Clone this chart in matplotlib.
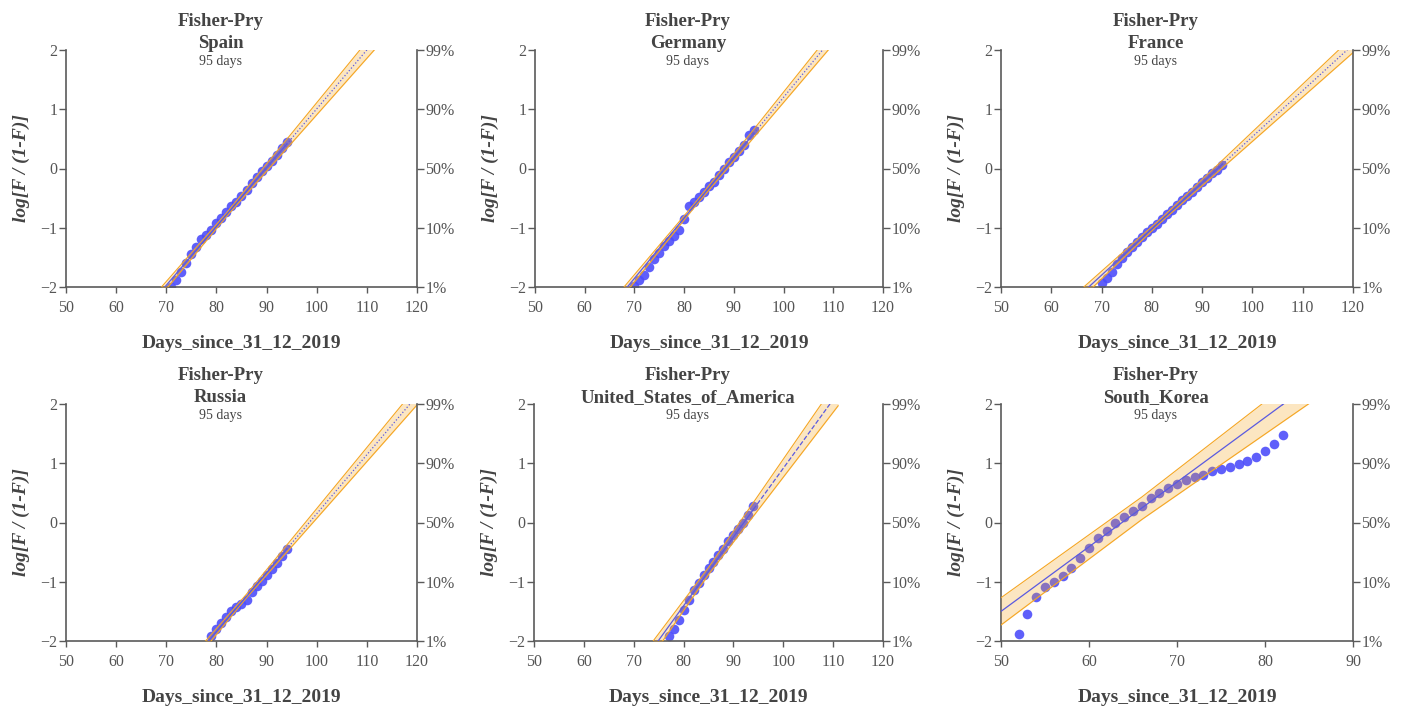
import numpy as np
import matplotlib
matplotlib.use("Agg")
import matplotlib.pyplot as plt

plt.rcParams['font.family'] = ['Liberation Serif', 'DejaVu Serif']

# ---- data ----
spain_days = list(range(71, 95))
spain_vals = [-2.00, -1.88, -1.74, -1.60, -1.45, -1.32, -1.19, -1.12, -1.04, -0.92,
              -0.84, -0.74, -0.64, -0.56, -0.47, -0.36, -0.25, -0.14, -0.05, 0.04,
              0.12, 0.23, 0.34, 0.45]
spain_fit_x = [68, 94, 112]
spain_fit_y = [-2.17, 0.41, 2.20]
spain_band_x = [68, 82, 112]
spain_band_lo = [-2.24, -0.81, 2.05]
spain_band_hi = [-2.10, -0.75, 2.35]

germany_days = list(range(70, 95))
germany_vals = [-1.98, -1.89, -1.80, -1.66, -1.53, -1.42, -1.31, -1.22, -1.14, -1.04,
                -0.86, -0.64, -0.56, -0.48, -0.39, -0.30, -0.22, -0.11, 0.00, 0.11,
                0.20, 0.30, 0.40, 0.57, 0.65]
germany_fit_x = [67, 94, 110]
germany_fit_y = [-2.16, 0.59, 2.22]
germany_band_x = [67, 82, 110]
germany_band_lo = [-2.23, -0.66, 2.10]
germany_band_hi = [-2.09, -0.60, 2.34]

france_days = list(range(70, 95))
france_vals = [-1.94, -1.85, -1.74, -1.62, -1.51, -1.41, -1.32, -1.24, -1.16, -1.08,
               -1.00, -0.93, -0.85, -0.77, -0.70, -0.62, -0.54, -0.47, -0.39, -0.31,
               -0.23, -0.16, -0.08, -0.02, 0.06]
france_fit_x = [65, 94, 121]
france_fit_y = [-2.19, 0.07, 2.17]
france_band_x = [65, 82, 121]
france_band_lo = [-2.27, -0.89, 2.03]
france_band_hi = [-2.11, -0.83, 2.31]

russia_days = list(range(79, 95))
russia_vals = [-1.92, -1.79, -1.69, -1.60, -1.49, -1.42, -1.38, -1.30, -1.17, -1.08,
               -0.98, -0.89, -0.78, -0.68, -0.57, -0.45]
russia_fit_x = [77, 94, 121]
russia_fit_y = [-2.14, -0.45, 2.24]
russia_band_x = [77, 86, 121]
russia_band_lo = [-2.20, -1.27, 2.08]
russia_band_hi = [-2.08, -1.21, 2.40]

usa_days = list(range(77, 95))
usa_vals = [-1.92, -1.79, -1.65, -1.47, -1.30, -1.14, -1.02, -0.89, -0.77, -0.66,
            -0.55, -0.44, -0.32, -0.21, -0.11, 0.00, 0.13, 0.28]
usa_fit_x = [73, 94, 111]
usa_fit_y = [-2.22, 0.22, 2.19]
usa_band_x = [73, 85, 111]
usa_band_lo = [-2.34, -0.88, 1.97]
usa_band_hi = [-2.10, -0.76, 2.41]

korea_days = list(range(52, 83))
korea_vals = [-1.88, -1.55, -1.26, -1.09, -1.01, -0.90, -0.76, -0.60, -0.43, -0.27,
              -0.14, -0.01, 0.10, 0.19, 0.28, 0.41, 0.50, 0.59, 0.65, 0.71,
              0.77, 0.81, 0.87, 0.90, 0.94, 0.98, 1.04, 1.11, 1.21, 1.32, 1.47]
korea_fit_x = [50, 82, 86]
korea_fit_y = [-1.50, 1.99, 2.42]
korea_band_x = [50, 66, 86]
korea_band_lo = [-1.73, 0.05, 2.11]
korea_band_hi = [-1.27, 0.43, 2.73]

y_ticks = [-2, -1, 0, 1, 2]
pct_labels = ["1%", "10%", "50%", "90%", "99%"]

panels = [
    ("Spain", spain_days, spain_vals, spain_fit_x, spain_fit_y,
     spain_band_x, spain_band_lo, spain_band_hi, ":", (50, 120)),
    ("Germany", germany_days, germany_vals, germany_fit_x, germany_fit_y,
     germany_band_x, germany_band_lo, germany_band_hi, ":", (50, 120)),
    ("France", france_days, france_vals, france_fit_x, france_fit_y,
     france_band_x, france_band_lo, france_band_hi, ":", (50, 120)),
    ("Russia", russia_days, russia_vals, russia_fit_x, russia_fit_y,
     russia_band_x, russia_band_lo, russia_band_hi, ":", (50, 120)),
    ("United_States_of_America", usa_days, usa_vals, usa_fit_x, usa_fit_y,
     usa_band_x, usa_band_lo, usa_band_hi, "--", (50, 120)),
    ("South_Korea", korea_days, korea_vals, korea_fit_x, korea_fit_y,
     korea_band_x, korea_band_lo, korea_band_hi, "-", (50, 90)),
]

W, H = 1405, 708
fig = plt.figure(figsize=(W / 100, H / 100), dpi=100)

# axes boxes in pixels: left, right, top, bottom
boxes = [
    (66, 417, 50, 287), (535, 883, 50, 287), (1001, 1353, 50, 287),
    (66, 417, 404, 641), (534, 883, 404, 641), (1001, 1353, 404, 641),
]

text_col = "#444444"
axis_col = "#5a5a5a"
dot_col = "#4d4dfa"
fit_col = "#5a5ae0"
band_col = "#f5a623"

for (name, days, vals, fx, fy, bx, blo, bhi, ext_style, xlim), (l, r, t, b) in zip(panels, boxes):
    ax = fig.add_axes([l / W, 1 - b / H, (r - l) / W, (b - t) / H])
    ax.scatter(days, vals, s=48, color=dot_col, alpha=0.9, linewidths=0, zorder=2)
    ax.plot(fx[:2], fy[:2], color=fit_col, lw=0.9, zorder=4)
    ax.plot(fx[1:], fy[1:], color=fit_col, lw=0.9, ls=ext_style, zorder=4)
    ax.fill_between(bx, blo, bhi, color=band_col, alpha=0.28, lw=0, zorder=3)
    ax.plot(bx, blo, color=band_col, lw=0.8, zorder=3)
    ax.plot(bx, bhi, color=band_col, lw=0.8, zorder=3)

    ax.set_xlim(*xlim)
    ax.set_ylim(-2, 2)
    ax.set_xticks(np.arange(xlim[0], xlim[1] + 1, 10))
    ax.set_yticks(y_ticks)
    for s in ["top", "right"]:
        ax.spines[s].set_visible(False)
    for s in ["left", "bottom"]:
        ax.spines[s].set_color(axis_col)
        ax.spines[s].set_linewidth(1.2)
    ax.tick_params(axis="x", direction="out", length=4.5, width=1, color=axis_col,
                   labelcolor="#555555", labelsize=11.5, pad=5)
    ax.tick_params(axis="y", direction="out", length=5, width=1, color=axis_col,
                   labelcolor="#555555", labelsize=11.5, pad=1)

    ax2 = ax.twinx()
    ax2.set_ylim(-2, 2)
    ax2.set_yticks(y_ticks)
    ax2.set_yticklabels(pct_labels)
    for s in ["top", "left", "bottom"]:
        ax2.spines[s].set_visible(False)
    ax2.spines["right"].set_color(axis_col)
    ax2.spines["right"].set_linewidth(1.2)
    ax2.tick_params(axis="y", direction="out", length=5, width=1, color=axis_col,
                    labelcolor="#555555", labelsize=11.5, pad=1)

    hpx = b - t
    cx = 0.5 - 21 / (r - l)
    ax.text(cx, 1 + 24 / hpx, "Fisher-Pry", transform=ax.transAxes, ha="center",
            va="baseline", fontsize=13.5, fontweight="bold", color=text_col)
    ax.text(cx, 1 + 2 / hpx, name, transform=ax.transAxes, ha="center",
            va="baseline", fontsize=13.5, fontweight="bold", color=text_col)
    ax.text(cx, 1 - 15 / hpx, "95 days", transform=ax.transAxes, ha="center",
            va="baseline", fontsize=10, color=text_col)
    ax.text(0.5, -61 / hpx, "Days_since_31_12_2019", transform=ax.transAxes,
            ha="center", va="baseline", fontsize=14, fontweight="bold", color=text_col)
    ax.text(-45 / (r - l), 0.5, "log[F / (1-F)]", transform=ax.transAxes, rotation=90,
            ha="center", va="center", fontsize=14, fontweight="bold", fontstyle="italic",
            color=text_col)

fig.savefig("out.png", dpi=100)
